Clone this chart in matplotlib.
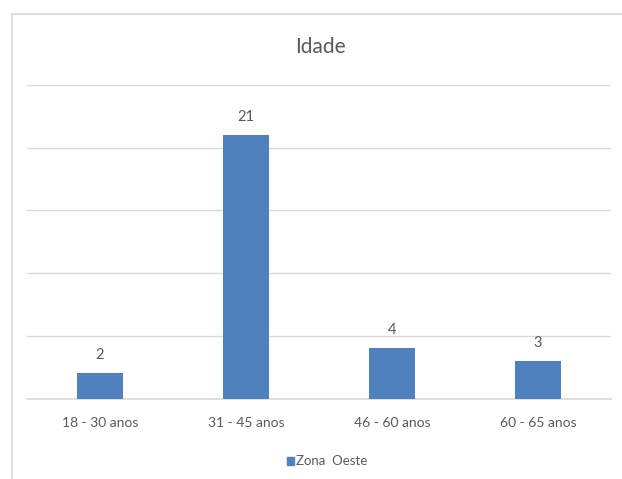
import matplotlib

matplotlib.use("Agg")
import matplotlib.pyplot as plt
from matplotlib.lines import Line2D
from matplotlib.patches import Rectangle

# 数据
categories = ["18 - 30 anos", "31 - 45 anos", "46 - 60 anos", "60 - 65 anos"]
values = [2, 21, 4, 3]
series_name = "Zona  Oeste"
title = "Idade"

W, H = 622, 479
BAR = "#4F81BD"
GRID = "#D9D9D9"
TEXT = "#595959"

plt.rcParams["font.family"] = ["Lato", "DejaVu Sans"]

fig = plt.figure(figsize=(W / 100, H / 100), dpi=100)
fig.patch.set_facecolor("white")

# 绘图区（像素换算到 figure 坐标）
x0, x1 = 27, 611
y_top, y_base = 85, 398.5
ax = fig.add_axes((x0 / W, 1 - y_base / H, (x1 - x0) / W, (y_base - y_top) / H))
ax.set_xlim(-0.5, len(categories) - 0.5)
ax.set_ylim(0, 25)
ax.set_yticks(range(0, 26, 5))
ax.yaxis.grid(True, color=GRID, linewidth=1)
ax.set_axisbelow(True)
for s in ax.spines.values():
    s.set_visible(False)
ax.tick_params(left=False, bottom=False, labelleft=False)

xs = range(len(categories))
bars = ax.bar(xs, values, width=0.31, color=BAR, zorder=2)
ax.axhline(0, color=GRID, linewidth=1.2, zorder=1, clip_on=False)
for b, v in zip(bars, values):
    ax.annotate(str(v), (b.get_x() + b.get_width() / 2, v), xytext=(0, 8),
                textcoords="offset points", ha="center", va="bottom",
                fontsize=10.5, color=TEXT)
ax.set_xticks(list(xs))
ax.set_xticklabels(categories, fontsize=10, color=TEXT)
ax.tick_params(axis="x", pad=10)

fig.text(320 / W, 1 - 47 / H, title, ha="center", va="center", fontsize=15, color=TEXT)

# 图例
fig.patches.append(Rectangle((287 / W, 1 - 465 / H), 7 / W, 8 / H,
                             transform=fig.transFigure, color=BAR))
fig.text(296 / W, 1 - 461 / H, series_name, ha="left", va="center", fontsize=9.5, color=TEXT)

# 图表外框（左、上）
fig.add_artist(Line2D([11.5 / W, 11.5 / W], [0, 1 - 13.5 / H], color=GRID, linewidth=1.2,
                      transform=fig.transFigure))
fig.add_artist(Line2D([11.5 / W, 1], [1 - 13.5 / H, 1 - 13.5 / H], color=GRID, linewidth=1.2,
                      transform=fig.transFigure))

fig.savefig("out.png", dpi=100, facecolor="white")
